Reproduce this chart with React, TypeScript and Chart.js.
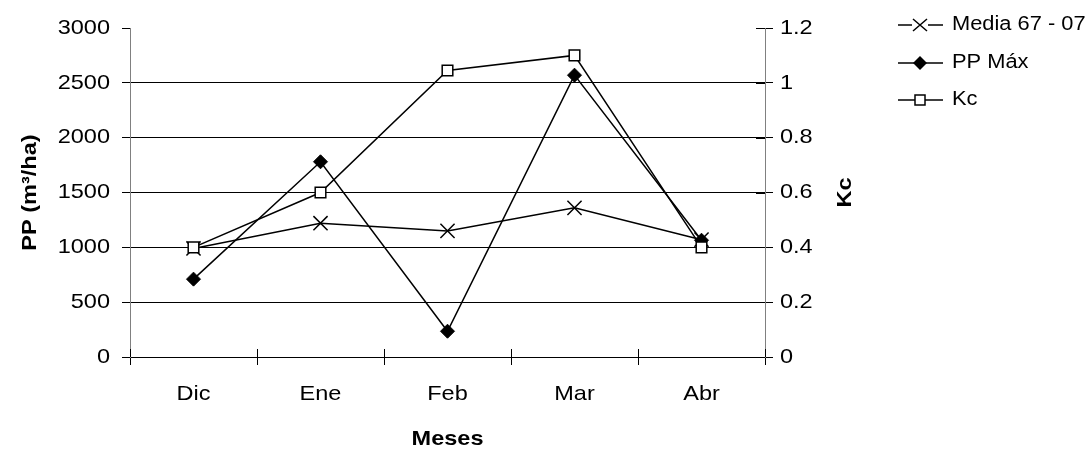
import React, { useEffect, useRef } from "react";
import { Chart, registerables } from "chart.js";

Chart.register(...registerables);

const months = ["Dic", "Ene", "Feb", "Mar", "Abr"];
const mediaValues = [990, 1220, 1150, 1360, 1070];
const ppMaxValues = [710, 1780, 235, 2570, 1065];
const kcValues = [0.4, 0.6, 1.045, 1.1, 0.4];
const kcTicks = [0, 0.2, 0.4, 0.6, 0.8, 1, 1.2];
const seriesNames = ["Media 67 - 07", "PP Máx", "Kc"];
const leftTitle = "PP (m³/ha)";
const rightTitle = "Kc";
const xTitle = "Meses";

const FONT = "'Liberation Sans', Arial, sans-serif";
const TEXT_STRETCH = 1.12;

const legendAndTitlePlugin = {
  id: "customLegend",
  afterDatasetsDraw(chart: any) {
    // inner halves of tick marks (ticks cross the axes)
    const ctx = chart.ctx;
    const xs = chart.scales.x;
    const y1 = chart.scales.y1;
    ctx.save();
    ctx.strokeStyle = "#000";
    ctx.lineWidth = 1;
    const n = months.length;
    const step = (xs.right - xs.left) / n;
    for (let k = 0; k <= n; k++) {
      const px = Math.round(xs.left + k * step) + 0.5;
      ctx.beginPath();
      ctx.moveTo(px, xs.top - 8);
      ctx.lineTo(px, xs.top);
      ctx.stroke();
    }
    kcTicks.forEach((v) => {
      const py = Math.round(y1.getPixelForValue(v)) + 0.5;
      ctx.beginPath();
      ctx.moveTo(y1.left - 9, py);
      ctx.lineTo(y1.left, py);
      ctx.stroke();
    });
    ctx.restore();
  },
  afterDraw(chart: any) {
    const ctx = chart.ctx;
    const area = chart.chartArea;
    ctx.save();
    ctx.fillStyle = "#000";
    ctx.font = `bold 21px ${FONT}`;
    ctx.textAlign = "center";
    ctx.textBaseline = "middle";
    ctx.translate(845, (area.top + area.bottom) / 2);
    ctx.rotate(-Math.PI / 2);
    ctx.fillText(rightTitle, 0, 0);
    ctx.restore();

    const rows = [25, 63, 100];
    const x0 = 898;
    const x1 = 943;
    const mx = 920;
    ctx.save();
    ctx.strokeStyle = "#000";
    ctx.lineWidth = 1.5;
    seriesNames.forEach((name, i) => {
      const y = rows[i];
      ctx.beginPath();
      ctx.moveTo(x0, y);
      ctx.lineTo(x1, y);
      ctx.stroke();
      if (i === 0) {
        ctx.fillStyle = "#fff";
        ctx.fillRect(mx - 8, y - 7, 16, 14);
        ctx.beginPath();
        ctx.moveTo(mx - 7, y - 6);
        ctx.lineTo(mx + 7, y + 6);
        ctx.moveTo(mx + 7, y - 6);
        ctx.lineTo(mx - 7, y + 6);
        ctx.stroke();
      } else if (i === 1) {
        ctx.fillStyle = "#000";
        ctx.beginPath();
        ctx.moveTo(mx - 7, y);
        ctx.lineTo(mx, y - 7);
        ctx.lineTo(mx + 7, y);
        ctx.lineTo(mx, y + 7);
        ctx.closePath();
        ctx.fill();
      } else {
        ctx.fillStyle = "#fff";
        ctx.fillRect(mx - 5, y - 5, 10, 10);
        ctx.strokeRect(mx - 5, y - 5, 10, 10);
      }
      ctx.fillStyle = "#000";
      ctx.font = `19.5px ${FONT}`;
      ctx.textAlign = "left";
      ctx.textBaseline = "middle";
      ctx.fillText(name, 952, y);
    });
    ctx.restore();
  },
};

export default function App() {
  const canvasRef = useRef<HTMLCanvasElement | null>(null);

  useEffect(() => {
    const canvas = canvasRef.current;
    if (!canvas) return;
    const c2d: any = canvas.getContext("2d");
    const origFill = c2d.fillText.bind(c2d);
    c2d.fillText = (text: string, x: number, y: number) => {
      c2d.save();
      c2d.translate(x, y);
      c2d.scale(TEXT_STRETCH, 1);
      origFill(text, 0, 0);
      c2d.restore();
    };
    const chart = new Chart(canvas, {
      type: "line",
      data: {
        labels: months,
        datasets: [
          {
            label: seriesNames[0],
            data: mediaValues,
            yAxisID: "y",
            borderColor: "#000",
            backgroundColor: "#000",
            borderWidth: 1.5,
            pointStyle: "crossRot",
            pointRadius: 10,
            pointBorderWidth: 1.5,
            pointBorderColor: "#000",
            tension: 0,
            order: 2,
          },
          {
            label: seriesNames[1],
            data: ppMaxValues,
            yAxisID: "y",
            borderColor: "#000",
            backgroundColor: "#000",
            borderWidth: 1.5,
            pointStyle: "rectRot",
            pointRadius: 7,
            pointBorderWidth: 1,
            pointBackgroundColor: "#000",
            pointBorderColor: "#000",
            tension: 0,
            order: 1,
          },
          {
            label: seriesNames[2],
            data: kcValues,
            yAxisID: "y1",
            borderColor: "#000",
            backgroundColor: "#fff",
            borderWidth: 1.5,
            pointStyle: "rect",
            pointRadius: 7.5,
            pointBorderWidth: 1.5,
            pointBackgroundColor: "#fff",
            pointBorderColor: "#000",
            tension: 0,
            order: 0,
          },
        ],
      },
      options: {
        animation: false,
        responsive: true,
        maintainAspectRatio: false,
        layout: { padding: { top: 28, left: 0, right: 243, bottom: 0 } },
        plugins: {
          legend: { display: false },
          tooltip: { enabled: false },
          title: { display: false },
        },
        scales: {
          x: {
            type: "category",
            offset: true,
            grid: {
              offset: true,
              drawOnChartArea: false,
              drawTicks: true,
              tickLength: 8,
              color: "#000",
              lineWidth: 1,
            },
            border: { display: true, color: "#000", width: 1 },
            ticks: {
              color: "#000",
              font: { family: FONT, size: 21 },
              padding: 17,
              maxRotation: 0,
            },
            title: {
              display: true,
              text: xTitle,
              color: "#000",
              font: { family: FONT, size: 21, weight: "bold" },
              padding: { top: 0, bottom: 3 },
            },
            afterFit: (scale: any) => {
              scale.height = 98;
            },
          },
          y: {
            type: "linear",
            position: "left",
            min: 0,
            max: 3000,
            ticks: {
              stepSize: 500,
              color: "#000",
              font: { family: FONT, size: 21 },
              padding: 12,
              callback: (v: any) => String(v),
            },
            grid: {
              drawTicks: true,
              tickLength: 8,
              tickColor: "#000",
              color: (ctx: any) =>
                ctx.tick && (ctx.tick.value === 3000 || ctx.tick.value === 0)
                  ? "rgba(0,0,0,0)"
                  : "#000",
              lineWidth: 1,
            },
            border: { display: true, color: "#808080", width: 1 },
            title: {
              display: true,
              text: leftTitle,
              color: "#000",
              font: { family: FONT, size: 21, weight: "bold" },
              padding: { top: 18, bottom: 0 },
            },
            afterFit: (scale: any) => {
              scale.width = 130;
            },
          },
          y1: {
            type: "linear",
            position: "right",
            min: 0,
            max: 1.2,
            ticks: {
              stepSize: 0.2,
              color: "#000",
              font: { family: FONT, size: 21 },
              padding: 7,
              callback: (v: any) => String(Number(Number(v).toFixed(1))),
            },
            grid: {
              drawOnChartArea: false,
              drawTicks: true,
              tickLength: 8,
              tickColor: "#000",
              color: "#000",
            },
            border: { display: true, color: "#808080", width: 1 },
            title: { display: false },
            afterFit: (scale: any) => {
              scale.width = 80;
            },
          },
        },
      },
      plugins: [legendAndTitlePlugin],
    });
    return () => {
      chart.destroy();
      c2d.fillText = origFill;
    };
  }, []);

  return (
    <div style={{ position: "absolute", left: 0, top: 0, width: 1088, height: 455, background: "#fff" }}>
      <canvas ref={canvasRef} />
    </div>
  );
}
